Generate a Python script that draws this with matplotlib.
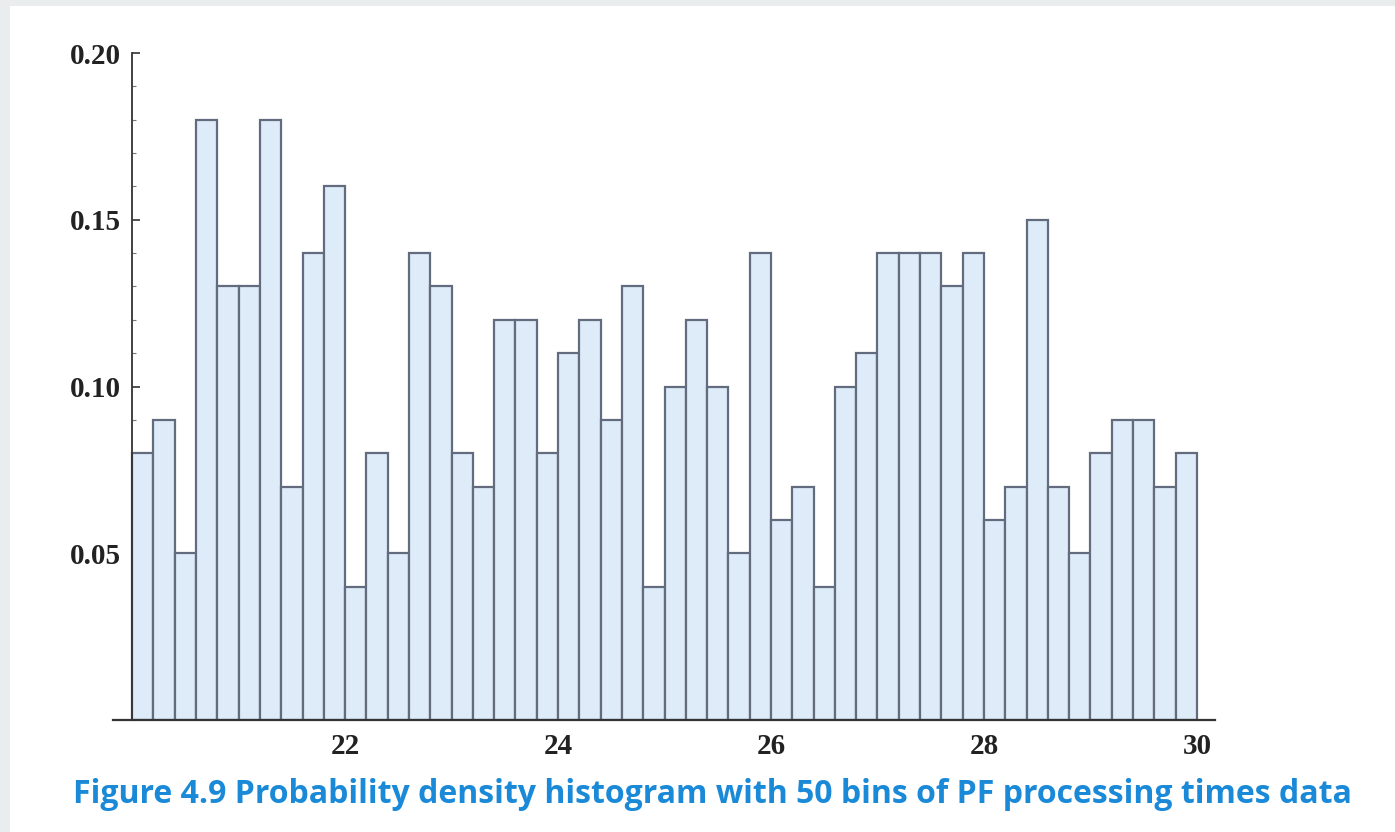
import numpy as np
import matplotlib
matplotlib.use("Agg")
import matplotlib.pyplot as plt
from matplotlib.patches import Rectangle
from matplotlib.ticker import MultipleLocator


# ------------------------------------
# DATA
# ------------------------------------

bin_start = 20.0
bin_end = 30.0
n_bins = 50

densidade = [
    0.08, 0.09, 0.05, 0.18, 0.13, 0.13, 0.18, 0.07, 0.14, 0.16,
    0.04, 0.08, 0.05, 0.14, 0.13, 0.08, 0.07, 0.12, 0.12, 0.08,
    0.11, 0.12, 0.09, 0.13, 0.04, 0.10, 0.12, 0.10, 0.05, 0.14,
    0.06, 0.07, 0.04, 0.10, 0.11, 0.14, 0.14, 0.14, 0.13, 0.14,
    0.06, 0.07, 0.15, 0.07, 0.05, 0.08, 0.09, 0.09, 0.07, 0.08,
]

x_ticks = [22, 24, 26, 28, 30]
y_ticks = [0.05, 0.10, 0.15, 0.20]
y_tick_labels = ["0.05", "0.10", "0.15", "0.20"]

legenda = "Figure 4.9 Probability density histogram with 50 bins of PF processing times data"


# ------------------------------------
# FIGURE
# ------------------------------------

W, H = 1395, 832
fig = plt.figure(figsize=(W / 100, H / 100), dpi=100)
fig.patch.set_facecolor("#e9eded")

# white page area (gray strip left and top)
fig.patches.append(Rectangle((10 / W, 0), 1 - 10 / W, 1 - 6 / H,
                             transform=fig.transFigure, facecolor="white",
                             edgecolor="none", zorder=-10))

# axes box: x axis from px 113 to 1215, y=0 at px 720, 0.20 at px 53
x_lo, x_hi = 19.82, 30.17
y_top = 0.2 + 3 / 3333
ax = fig.add_axes([113 / W, 1 - 720 / H, (1215 - 113) / W, (720 - 50) / H])
ax.set_zorder(5)
ax.set_facecolor("none")

bordas = np.linspace(bin_start, bin_end, n_bins + 1)
largura = bordas[1] - bordas[0]
ax.bar(bordas[:-1], densidade, width=largura, align="edge",
       color="#deebf8", edgecolor="#636c7e", linewidth=1.6, zorder=2)

ax.set_xlim(x_lo, x_hi)
ax.set_ylim(0, y_top)

for s in ["top", "right"]:
    ax.spines[s].set_visible(False)
ax.spines["left"].set_position(("data", 20))
ax.spines["left"].set_bounds(0, 0.2)
ax.spines["left"].set_color("#333333")
ax.spines["bottom"].set_color("#333333")
ax.spines["left"].set_linewidth(1.3)
ax.spines["bottom"].set_linewidth(1.6)

ax.set_xticks(x_ticks)
ax.set_xticklabels([str(t) for t in x_ticks])
ax.set_yticks(y_ticks)
ax.set_yticklabels(y_tick_labels)
ax.yaxis.set_minor_locator(MultipleLocator(0.01))

fonte_eixo = {"family": ["Liberation Serif", "DejaVu Serif"], "weight": "bold", "size": 21}
for lbl in ax.get_xticklabels() + ax.get_yticklabels():
    lbl.set_fontproperties(matplotlib.font_manager.FontProperties(**fonte_eixo))
    lbl.set_color("#222222")

ax.tick_params(axis="both", which="major", direction="in", length=6,
               width=1.2, color="#333333")
ax.tick_params(axis="y", which="minor", direction="in", length=3,
               width=0.8, color="#777777")
ax.tick_params(axis="x", which="major", pad=9)
ax.tick_params(axis="y", which="major", pad=8)

# caption
fig.text(712.5 / W, 1 - 803 / H, legenda, ha="center", va="baseline",
         color="#1a8ad8", fontsize=23, fontweight="bold",
         family=["Open Sans", "DejaVu Sans"])

plt.savefig("out.png", dpi=100, facecolor=fig.get_facecolor())
